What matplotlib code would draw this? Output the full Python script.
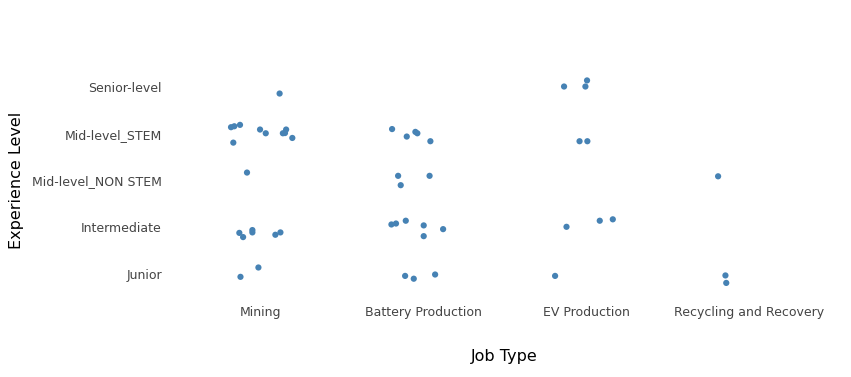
import numpy as np
import matplotlib.pyplot as plt

# categories
job_types = ['Mining', 'Battery Production', 'EV Production', 'Recycling and Recovery']
levels = ['Junior', 'Intermediate', 'Mid-level_NON STEM', 'Mid-level_STEM', 'Senior-level']

# one entry per person: job type, experience level, and the jitter
point_job = (['Mining'] * 20 + ['Battery Production'] * 17 +
             ['EV Production'] * 9 + ['Recycling and Recovery'] * 3)
point_level = (
    ['Senior-level'] + ['Mid-level_STEM'] * 10 + ['Mid-level_NON STEM'] +
    ['Intermediate'] * 6 + ['Junior'] * 2 +
    ['Mid-level_STEM'] * 5 + ['Mid-level_NON STEM'] * 3 +
    ['Intermediate'] * 6 + ['Junior'] * 3 +
    ['Senior-level'] * 3 + ['Mid-level_STEM'] * 2 + ['Intermediate'] * 3 + ['Junior'] +
    ['Mid-level_NON STEM'] + ['Junior'] * 2
)
jitter_x = [0.12,
            -0.178, -0.158, -0.123, -0.164, 0.0, 0.035, 0.16, 0.14, 0.153, 0.198,
            -0.08,
            -0.127, -0.104, -0.047, -0.047, 0.094, 0.125,
            -0.12, -0.01,
            -0.19, -0.10, -0.047, -0.035, 0.045,
            -0.153, 0.04, -0.137,
            -0.194, -0.166, -0.106, 0.004, 0.004, 0.123,
            -0.11, -0.057, 0.074,
            -0.135, -0.004, 0.006,
            -0.04, 0.008,
            -0.12, 0.084, 0.164,
            -0.19,
            -0.19,
            -0.145, -0.14]
jitter_y = [-0.14,
            0.14, 0.16, 0.19, -0.19, 0.09, 0.01, 0.09, 0.01, 0.015, -0.09,
            0.17,
            -0.12, -0.21, -0.06, -0.11, -0.16, -0.11,
            -0.06, 0.14,
            0.10, -0.06, 0.04, 0.01, -0.16,
            0.10, 0.10, -0.10,
            0.06, 0.08, 0.14, 0.04, -0.19, -0.04,
            -0.04, -0.10, -0.01,
            0.01, 0.01, 0.14,
            -0.16, -0.16,
            0.01, 0.14, 0.17,
            -0.04,
            0.09,
            -0.03, -0.19]

x = np.array([job_types.index(j) for j in point_job]) + np.array(jitter_x)
y = np.array([levels.index(l) for l in point_level]) + np.array(jitter_y)

plt.rcParams['font.family'] = ['DejaVu Sans']

fig = plt.figure(figsize=(8.51, 3.77), dpi=100)
ax = fig.add_axes([0.2098, 0.2111, 0.7662, 0.6202])

ax.scatter(x, y, s=20, color='#4682b4', edgecolors='none', zorder=3)

ax.set_xlim(-0.5, 3.5)
ax.set_ylim(-0.5, 4.5)
ax.set_xticks(range(len(job_types)))
ax.set_xticklabels(job_types)
ax.set_yticks(range(len(levels)))
ax.set_yticklabels(levels)
ax.tick_params(length=0, labelsize=9, labelcolor='#444444')
ax.tick_params(axis='y', pad=12)
ax.tick_params(axis='x', pad=6)
for s in ax.spines.values():
    s.set_visible(False)

ax.set_xlabel('Job Type', fontsize=11.5, color='black', labelpad=22)
ax.set_ylabel('Experience Level', fontsize=11.5, color='black', labelpad=6)

fig.savefig('out.png', dpi=100)
